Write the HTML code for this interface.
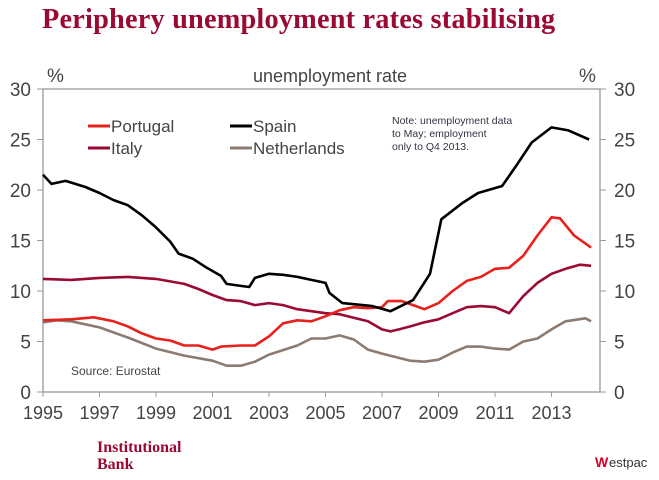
<!DOCTYPE html>
<html><head><meta charset="utf-8"><style>
body{margin:0;background:#fff;width:659px;height:475px;overflow:hidden;font-family:"Liberation Sans",sans-serif;}
</style></head><body>
<svg width="659" height="475" xmlns="http://www.w3.org/2000/svg">
<text x="42" y="28" font-family="Liberation Serif" font-weight="bold" font-size="28.3" letter-spacing="0.2" fill="#9b0a33">Periphery unemployment rates stabilising</text>
<rect x="43" y="89" width="557" height="303" fill="none" stroke="#999" stroke-width="1.3"/>
<g id="axes"></g>
<g id="series"></g>
<text x="47" y="82" font-size="19" fill="#444">%</text>
<text x="579" y="82" font-size="19" fill="#444">%</text>
<text x="330" y="82" font-size="18" fill="#444" text-anchor="middle">unemployment rate</text>
<g font-size="17" fill="#444">
<line x1="88" y1="126" x2="110" y2="126" stroke="#e8211c" stroke-width="3"/><text x="111" y="132">Portugal</text>
<line x1="230" y1="126" x2="252" y2="126" stroke="#000" stroke-width="3"/><text x="253" y="132">Spain</text>
<line x1="88" y1="148" x2="110" y2="148" stroke="#9b0a33" stroke-width="3"/><text x="111" y="154">Italy</text>
<line x1="230" y1="148" x2="252" y2="148" stroke="#8c7b70" stroke-width="3"/><text x="253" y="154">Netherlands</text>
</g>
<g font-size="10.5" fill="#334">
<text x="392" y="124">Note: unemployment data</text><text x="392" y="137">to May; employment</text><text x="392" y="150">only to Q4 2013.</text>
</g>
<text x="71" y="375" font-size="12" fill="#444">Source: Eurostat</text>
<text x="97" y="452" font-family="Liberation Serif" font-weight="bold" font-size="16" fill="#9b0a33">Institutional</text>
<text x="97" y="469" font-family="Liberation Serif" font-weight="bold" font-size="16" fill="#9b0a33">Bank</text>
<g>
<text x="595" y="467" font-size="14" font-weight="bold" fill="#d5002b" font-family="Liberation Sans">W</text>
<text x="609" y="467" font-size="13" fill="#333">estpac</text>
</g>
</svg>
<script>
const yearTicks=[1995,1997,1999,2001,2003,2005,2007,2009,2011,2013];
const valueTicks=[0,5,10,15,20,25,30];
const spainX=[1995,1995.3,1995.8,1996.5,1997,1997.5,1998,1998.5,1999,1999.5,1999.8,2000.3,2000.8,2001.3,2001.5,2002,2002.3,2002.5,2003,2003.5,2004,2004.5,2005,2005.14,2005.6,2006.66,2007.3,2008.1,2008.7,2009.1,2009.84,2010.4,2011.25,2011.75,2012.3,2013,2013.6,2014.33];
const spainY=[21.5,20.6,20.9,20.3,19.7,19.0,18.5,17.5,16.3,14.9,13.7,13.2,12.3,11.5,10.7,10.5,10.4,11.3,11.7,11.6,11.4,11.1,10.8,9.8,8.8,8.5,8.0,9.1,11.7,17.1,18.7,19.7,20.4,22.4,24.7,26.2,25.9,25.0];
const portX=[1995,1996,1996.8,1997.5,1998,1998.5,1999,1999.5,2000,2000.5,2001,2001.3,2002,2002.5,2003,2003.5,2004,2004.5,2005,2005.5,2006,2006.5,2007,2007.2,2007.7,2008.2,2008.5,2009,2009.5,2010,2010.5,2011,2011.5,2012,2012.5,2013,2013.3,2013.8,2014.4];
const portY=[7.1,7.2,7.4,7.0,6.5,5.8,5.3,5.1,4.6,4.6,4.2,4.5,4.6,4.6,5.5,6.8,7.1,7.0,7.5,8.1,8.4,8.3,8.4,9.0,9.0,8.5,8.2,8.8,10.0,11.0,11.4,12.2,12.3,13.5,15.5,17.3,17.2,15.5,14.3];
const italyX=[1995,1996,1997,1998,1999,2000,2000.5,2001,2001.5,2002,2002.5,2003,2003.5,2004,2005,2005.5,2006.5,2007,2007.3,2007.6,2008,2008.5,2009,2009.5,2010,2010.5,2011,2011.5,2012,2012.5,2013,2013.5,2014,2014.4];
const italyY=[11.2,11.1,11.3,11.4,11.2,10.7,10.2,9.6,9.1,9.0,8.6,8.8,8.6,8.2,7.8,7.7,7.0,6.2,6.0,6.2,6.5,6.9,7.2,7.8,8.4,8.5,8.4,7.8,9.5,10.8,11.7,12.2,12.6,12.5];
const nethX=[1995,1995.5,1996,1997,1998,1999,2000,2001,2001.5,2002,2002.5,2003,2004,2004.5,2005,2005.5,2006,2006.5,2007,2008,2008.5,2009,2009.5,2010,2010.5,2011,2011.5,2012,2012.5,2013,2013.5,2014.2,2014.4];
const nethY=[6.9,7.1,7.0,6.4,5.4,4.3,3.6,3.1,2.6,2.6,3.0,3.7,4.6,5.3,5.3,5.6,5.2,4.2,3.8,3.1,3.0,3.2,3.9,4.5,4.5,4.3,4.2,5.0,5.3,6.2,7.0,7.3,7.0];
const NS='http://www.w3.org/2000/svg';
function xS(yr){return 43+(yr-1995)*28.25;}
function yS(v){return 392-v*10.1;}
function mk(t,a,p){const e=document.createElementNS(NS,t);for(const k in a)e.setAttribute(k,a[k]);p.appendChild(e);return e;}
const ax=document.getElementById('axes');
yearTicks.forEach(y=>{
 const l=mk('line',{x1:xS(y),x2:xS(y),y1:392,y2:397,stroke:'#999'},ax);
 
 
 const t=mk('text',{x:xS(y),y:419,'font-size':18,fill:'#444','text-anchor':'middle'},ax);
 
 
 t.textContent=y;
});
valueTicks.forEach(v=>{
 const l=mk('line',{x1:37,x2:43,y1:yS(v),y2:yS(v),stroke:'#999'},ax);
 
 
 const r=mk('line',{x1:600,x2:606,y1:yS(v),y2:yS(v),stroke:'#999'},ax);
 
 
 const t=mk('text',{x:31,y:yS(v)+7,'font-size':19,fill:'#444','text-anchor':'end'},ax);
 
 
 t.textContent=v;
 const t2=mk('text',{x:614,y:yS(v)+7,'font-size':19,fill:'#444'},ax);
 
 
 t2.textContent=v;
});
const sg=document.getElementById('series');
function draw(xs,ys,col,name){
 const d=xs.map((x,i)=>(i?'L':'M')+xS(x).toFixed(1)+','+yS(ys[i]).toFixed(1)).join('');
 const p=mk('path',{d:d,fill:'none',stroke:col,'stroke-width':2.6,'stroke-linejoin':'round'},sg);
 
 
}
draw(nethX,nethY,'#8c7b70','netherlands-line');
draw(italyX,italyY,'#9b0a33','italy-line');
draw(portX,portY,'#e8211c','portugal-line');
draw(spainX,spainY,'#000','spain-line');
</script>
</body></html>
